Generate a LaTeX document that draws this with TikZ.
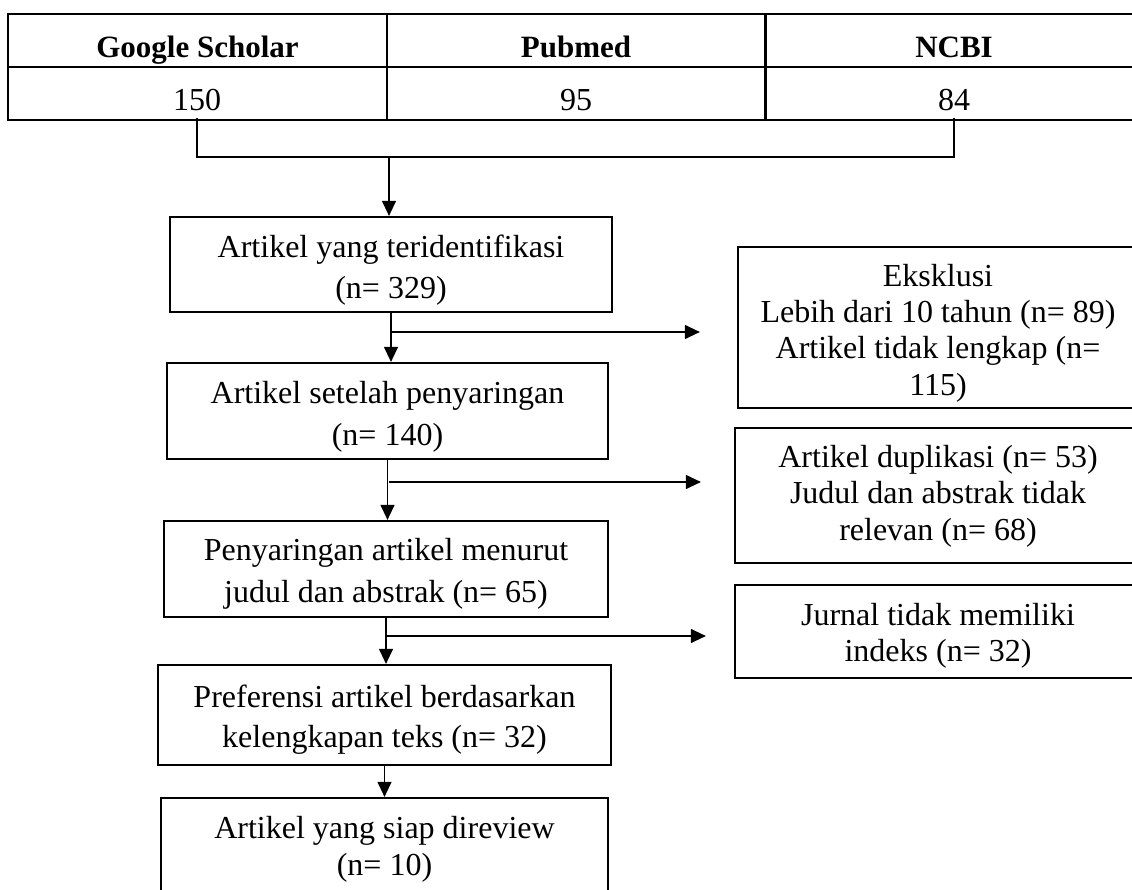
\documentclass[tikz,border=0pt]{standalone}
\usepackage{fontspec}
\setmainfont{Liberation Serif}
\usetikzlibrary{arrows.meta}
\newcommand{\fs}{\fontsize{32}{38}\selectfont}
\newcommand{\fsb}{\fontsize{31}{38}\selectfont\bfseries}
\tikzset{
  box/.style={draw, line width=2.2pt, rectangle, inner sep=0pt},
  cell/.style={draw, line width=2pt, rectangle, inner sep=0pt, minimum width=379pt, minimum height=53pt},
  txt/.style={anchor=base, inner sep=0pt, font=\fs},
  htxt/.style={anchor=base, inner sep=0pt, font=\fsb},
  arr/.style={line width=1.2pt, -{Triangle[length=15pt,width=14pt]}},
  brk/.style={line width=2pt}
}
\begin{document}
\begin{tikzpicture}[x=1pt,y=-1pt]
\useasboundingbox (0,0) rectangle (1132,890);
% table
\node[cell] (c11) at (197.5,40.5) {};
\node[cell] (c12) at (576,40.5) {};
\node[cell] (c13) at (954.5,40.5) {};
\node[cell] (c21) at (197.5,94) {};
\node[cell] (c22) at (576,94) {};
\node[cell] (c23) at (954.5,94) {};
\node[htxt] (h1) at (197.5,58) {Google Scholar};
\node[htxt] (h2) at (576,58) {Pubmed};
\node[htxt] (h3) at (954,58) {NCBI};
\node[txt] (v1) at (197,111) {150};
\node[txt] (v2) at (576,111) {95};
\node[txt] (v3) at (954,111) {84};
% bracket
\coordinate (bl) at (197,118);
\coordinate (br) at (954,118);
\coordinate (bm) at (389,157);
\draw[brk] (bl) |- (bm) -| (br);
% left boxes
\node[box, minimum width=442pt, minimum height=95pt] (b1) at (391,264.5) {};
\node[box, minimum width=441pt, minimum height=96pt] (b2) at (387.5,411) {};
\node[box, minimum width=444pt, minimum height=96pt] (b3) at (386,569) {};
\node[box, minimum width=453pt, minimum height=100pt] (b4) at (384.5,715) {};
\node[box, minimum width=447pt, minimum height=104pt] (b5) at (384.5,850) {};
\node[txt] (t1a) at (391,258) {Artikel yang teridentifikasi};
\node[txt] (t1b) at (391,299) {(n= 329)};
\node[txt] (t2a) at (387.5,403) {Artikel setelah penyaringan};
\node[txt] (t2b) at (387.5,445) {(n= 140)};
\node[txt] (t3a) at (386,560) {Penyaringan artikel menurut};
\node[txt] (t3b) at (386,602) {judul dan abstrak (n= 65)};
\node[txt] (t4a) at (384.5,707) {Preferensi artikel berdasarkan};
\node[txt] (t4b) at (384.5,747) {kelengkapan teks (n= 32)};
\node[txt] (t5a) at (384.5,838) {Artikel yang siap direview};
\node[txt] (t5b) at (384.5,875) {(n= 10)};
% right boxes (their right sides run past the picture's edge)
\node[box, minimum width=422pt, minimum height=161pt] (e1) at (949,327.5) {};
\node[box, minimum width=425pt, minimum height=135pt] (e2) at (947.5,495.5) {};
\node[box, minimum width=425pt, minimum height=93pt] (e3) at (947.5,631.5) {};
\node[txt] (u1a) at (938,287) {Eksklusi};
\node[txt] (u1b) at (938,323) {Lebih dari 10 tahun (n= 89)};
\node[txt] (u1c) at (938,359) {Artikel tidak lengkap (n=};
\node[txt] (u1d) at (938,395) {115)};
\node[txt] (u2a) at (938,467) {Artikel duplikasi (n= 53)};
\node[txt] (u2b) at (938,503) {Judul dan abstrak tidak};
\node[txt] (u2c) at (938,540) {relevan (n= 68)};
\node[txt] (u3a) at (938,625) {Jurnal tidak memiliki};
\node[txt] (u3b) at (938,661) {indeks (n= 32)};
% vertical arrows
\draw[arr] (bm) -- (bm |- b1.north);
\draw[arr] (b1.south) -- (b1.south |- b2.north);
\draw[arr] (b2.south) -- (b2.south |- b3.north);
\draw[arr] (b3.south) -- (b3.south |- b4.north);
\draw[arr] (b4.south) -- (b4.south |- b5.north);
% side arrows
\coordinate (s1) at (392,332);
\coordinate (s2) at (389,482);
\coordinate (s3) at (387,636);
\draw[arr] (s1) -- ([xshift=-37pt]e1.west |- s1);
\draw[arr] (s2) -- ([xshift=-33pt]e2.west |- s2);
\draw[arr] (s3) -- ([xshift=-28pt]e3.west |- s3);
\end{tikzpicture}
\end{document}
